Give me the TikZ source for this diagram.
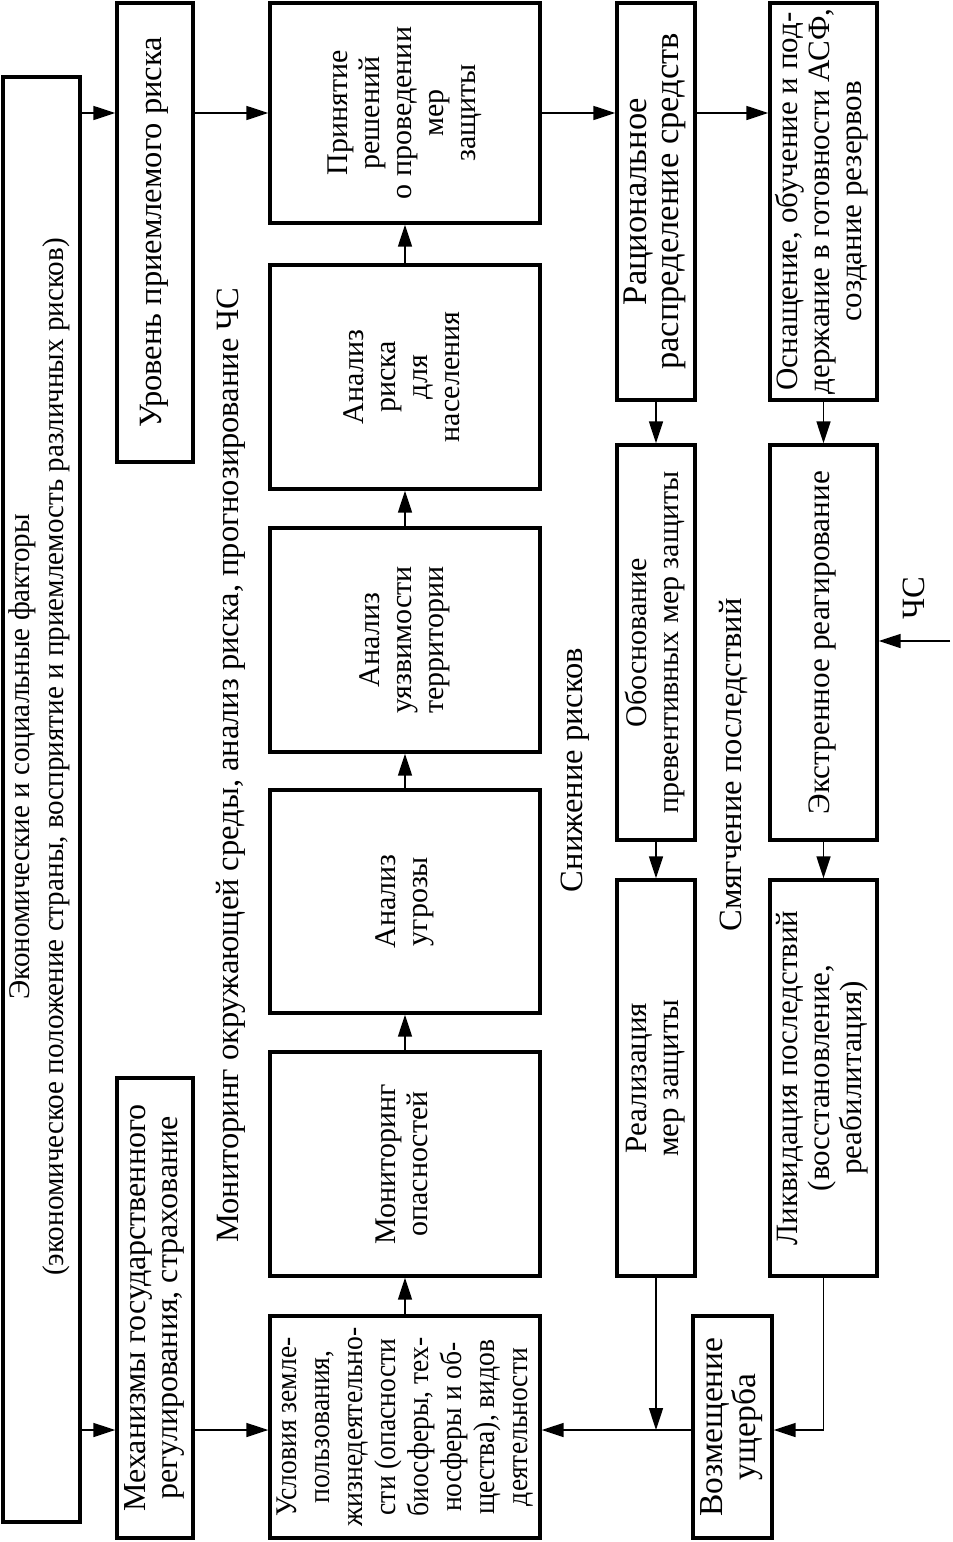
\documentclass[tikz,border=0pt]{standalone}
\usepackage{fontspec}
\setmainfont{Liberation Serif}
\usetikzlibrary{arrows.meta}
\newcommand{\rt}[2][1]{\rotatebox{90}{\scalebox{#1}[1]{\begin{tabular}{@{}c@{}}#2\end{tabular}}}}
\newcommand{\fs}[1]{\fontsize{#1}{32}\selectfont}
\begin{document}
\begin{tikzpicture}[x=1pt,y=-1pt,
  box/.style={draw, line width=3.4pt, inner sep=0pt, font=\fs{30}},
  lab/.style={inner sep=0pt, font=\fs{32.5}},
  conn/.style={line width=1.6pt, -{Triangle[length=22pt,width=14pt]}}]
\useasboundingbox (0,0) rectangle (953,1542);
% column 1
\node[box, minimum width=77pt, minimum height=1445pt] (B0) at (41.5,799.5) {};
\node[lab, font=\fontsize{30}{34}\selectfont] (B0t) at (40,757)
  {\rt[0.97]{Экономические и социальные факторы\\(экономическое положение страны, восприятие и приемлемость различных рисков)}};
% column 2
\node[box, font=\fs{32.5}, minimum width=76pt, minimum height=459pt] (C2a) at (155,232.5) {\rt{Уровень приемлемого риска}};
\node[box, font=\fs{32}, minimum width=76pt, minimum height=460pt] (C2b) at (155,1308) {\rt{Механизмы государственного\\регулирования, страхование}};
% column 3
\node[box, minimum width=270pt, minimum height=220pt] (C3a) at (405,113) {\rt{Принятие\\решений\\о проведении\\мер\\защиты}};
\node[box, minimum width=270pt, minimum height=224pt] (C3b) at (405,377) {\rt{Анализ\\риска\\для\\населения}};
\node[box, minimum width=270pt, minimum height=224pt] (C3c) at (405,640) {\rt{Анализ\\уязвимости\\территории}};
\node[box, minimum width=270pt, minimum height=223pt] (C3d) at (405,901.5) {\rt{Анализ\\угрозы}};
\node[box, minimum width=270pt, minimum height=224pt] (C3e) at (405,1164) {\rt{Мониторинг\\опасностей}};
\node[box, font=\fontsize{30}{33}\selectfont, minimum width=270pt, minimum height=222pt] (C3f) at (405,1427) {\rt[0.92]{Условия земле-\\пользования,\\жизнедеятельно-\\сти (опасности\\биосферы, тех-\\носферы и об-\\щества), видов\\деятельности}};
% column 4
\node[box, font=\fs{34.5}, minimum width=78pt, minimum height=397pt] (C4a) at (656,201.5) {\rt{Рациональное\\распределение средств}};
\node[box, minimum width=78pt, minimum height=395pt] (C4b) at (656,642.5) {\rt{Обоснование\\превентивных мер защиты}};
\node[box, font=\fs{31}, minimum width=78pt, minimum height=396pt] (C4c) at (656,1078) {\rt{Реализация\\мер защиты}};
\node[box, font=\fs{33.5}, minimum width=79pt, minimum height=222pt] (D) at (732.5,1427) {\rt{Возмещение\\ущерба}};
% column 5
\node[box, font=\fs{31}, minimum width=107pt, minimum height=397pt] (C5a) at (823.5,201.5) {\rt{Оснащение, обучение и под-\\держание в готовности АСФ,\\создание резервов}};
\node[box, font=\fs{31.2}, minimum width=107pt, minimum height=395pt] (C5b) at (823.5,642.5) {\rt{Экстренное реагирование}};
\node[box, font=\fs{31}, minimum width=107pt, minimum height=396pt] (C5c) at (823.5,1078) {\rt{Ликвидация последствий\\(восстановление,\\реабилитация)}};
% labels
\node[lab] (L1) at (232,765) {\rt{Мониторинг окружающей среды, анализ риска, прогнозирование ЧС}};
\node[lab] (L2) at (576,770) {\rt{Снижение рисков}};
\node[lab] (L3) at (735,765) {\rt{Смягчение последствий}};
\node[lab] (L4) at (918,598) {\rt{ЧС}};
% connectors
\coordinate (J) at (656,1430);
\coordinate (CS) at (950,641);
\draw[conn] (B0.east |- C3a.west) -- (C2a.west |- C3a.west);
\draw[conn] (B0.east |- J) -- (C2b.west |- J);
\draw[conn] (C2a.east |- C3a.west) -- (C3a.west);
\draw[conn] (C2b.east |- J) -- (C3f.west |- J);
\draw[conn] (C3f.north) -- (C3e.south);
\draw[conn] (C3e.north) -- (C3d.south);
\draw[conn] (C3d.north) -- (C3c.south);
\draw[conn] (C3c.north) -- (C3b.south);
\draw[conn] (C3b.north) -- (C3a.south);
\draw[conn] (C3a.east) -- (C4a.west |- C3a.east);
\draw[conn] (C4a.east |- C3a.east) -- (C5a.west |- C3a.east);
\draw[conn] (C4a.south) -- (C4b.north);
\draw[conn] (C4b.south) -- (C4c.north);
\draw[conn] (C5a.south) -- (C5b.north);
\draw[conn] (C5b.south) -- (C5c.north);
\draw[conn] (C4c.south) -- (J);
\draw[conn] (D.west |- J) -- (C3f.east |- J);
\draw[conn] (C5c.south) |- (D.east |- J);
\draw[conn] (CS) -- (C5b.east |- CS);
\end{tikzpicture}
\end{document}
